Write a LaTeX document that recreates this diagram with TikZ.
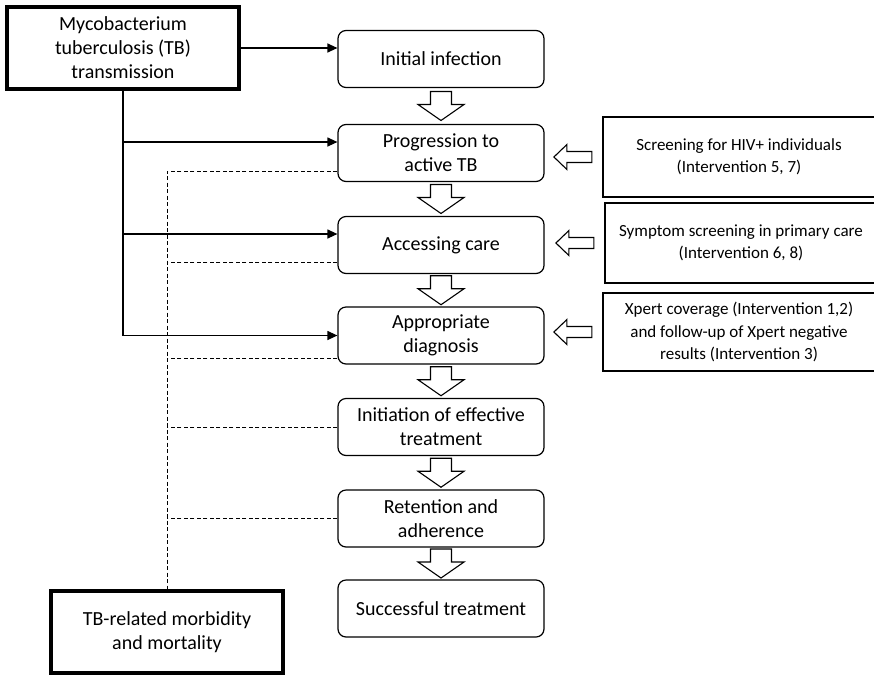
\documentclass[tikz,border=0pt]{standalone}
\usepackage{fontspec}
\setmainfont{Carlito}
\usetikzlibrary{positioning,arrows.meta,calc}

\tikzset{
  stage/.style={draw, rounded corners=8pt, line width=1.2pt, minimum width=206pt,
    minimum height=57pt, align=center, font=\fontsize{20}{24}\selectfont},
  origin/.style={draw, line width=3.5pt, minimum width=232pt, minimum height=82pt,
    align=center, font=\fontsize{20}{24}\selectfont},
  action/.style={draw, line width=1.2pt, minimum width=272pt, minimum height=80pt,
    align=center, font=\fontsize{17}{22.5}\selectfont},
  link/.style={line width=1.2pt, -{Triangle[length=10pt,width=9pt]}},
  loss/.style={line width=1pt, dash pattern=on 4pt off 2.5pt},
  pics/flowdown/.style={code={
    \draw[line width=1.1pt] (-10.5,-14.5) -- (10.5,-14.5) -- (10.5,-1.5) -- (23,-1.5)
      -- (0,14.5) -- (-23,-1.5) -- (-10.5,-1.5) -- cycle;}},
  pics/flowleft/.style={code={
    \draw[line width=1.1pt] (19,-5.5) -- (19,5.5) -- (-6,5.5) -- (-6,12.5)
      -- (-19,0) -- (-6,-12.5) -- (-6,-5.5) -- cycle;}}
}

\begin{document}
\begin{tikzpicture}[x=1pt, y=-1pt]
  \useasboundingbox (0,0) rectangle (874,675);

  % care cascade
  \foreach \name/\y/\txt in {s1/59/{Initial infection},
      s2/153/{Progression to\\active TB}, s3/245/{Accessing care},
      s4/335.5/{Appropriate\\diagnosis}, s5/427/{Initiation of effective\\treatment},
      s6/518.5/{Retention and\\adherence}, s7/608.5/{Successful treatment}}
    \node[stage] (\name) at (441,\y) {\txt};

  \node[origin] (tb) at (123,48) {Mycobacterium\\tuberculosis (TB)\\transmission};
  \node[origin] (out) at (167,632) {TB-related morbidity\\and mortality};

  % interventions
  \node[action] (a1) at (739,157) {Screening for HIV+ individuals\\(Intervention 5, 7)};
  \node[action] (a2) at (741,243) {Symptom screening in primary care\\(Intervention 6, 8)};
  \node[action, minimum height=78pt] (a3) at (739,332)
    {Xpert coverage (Intervention 1,2)\\and follow-up of Xpert negative\\results (Intervention 3)};

  \foreach \a/\b in {s1/s2, s2/s3, s3/s4, s4/s5, s5/s6, s6/s7}
    \pic at ($(\a.south)!0.5!(\b.north)$) {flowdown};
  \foreach \a in {a1, a2, a3}
    \pic at ([xshift=-29.5pt]\a.west) {flowleft};

  % transmission
  \draw[link] (tb.east) -- (tb.east -| s1.west);
  \draw[link] (tb.south) |- (s4.west);
  \draw[link] ([yshift=11pt]s2.west -| tb.south) -- ([yshift=11pt]s2.west);
  \draw[link] ([yshift=11pt]s3.west -| tb.south) -- ([yshift=11pt]s3.west);

  % losses
  \draw[loss] ([yshift=-18pt]s2.west) -| (out.north);
  \draw[loss] ([yshift=-17pt]s3.west) -- ([yshift=-17pt]s3.west -| out.north);
  \draw[loss] ([yshift=-22.5pt]s4.west) -- ([yshift=-22.5pt]s4.west -| out.north);
  \draw[loss] (s5.west) -- (s5.west -| out.north);
  \draw[loss] (s6.west) -- (s6.west -| out.north);
\end{tikzpicture}
\end{document}
